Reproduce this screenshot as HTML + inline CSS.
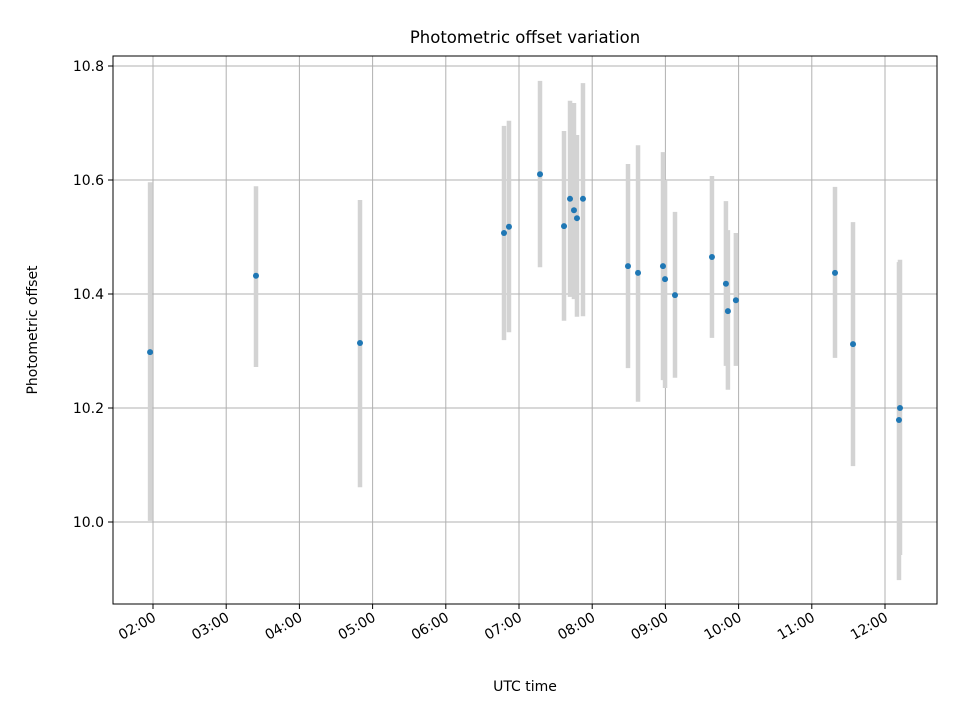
<!DOCTYPE html>
<html><head><meta charset="utf-8"><style>body{margin:0;background:#fff}svg{font-family:"DejaVu Sans","Liberation Sans",sans-serif}</style></head>
<body>
<svg id="chart" width="960" height="720" xmlns="http://www.w3.org/2000/svg">
<rect width="960" height="720" fill="#fff"/>
<text x="525" y="43" font-size="16.5px" text-anchor="middle">Photometric offset variation</text>
<text x="525" y="691" font-size="14px" text-anchor="middle">UTC time</text>
<text transform="translate(37,330) rotate(-90)" font-size="14px" text-anchor="middle">Photometric offset</text>
<g id="grid"></g><g id="bars"></g><g id="pts"></g><g id="ticks"></g>
<rect x="113" y="56" width="824" height="548" fill="none" stroke="#000" stroke-width="1"/>
</svg>
<script>
const times=[1.96,3.407,4.828,6.795,6.863,7.287,7.615,7.697,7.751,7.792,7.874,8.489,8.626,8.967,8.995,9.131,9.636,9.827,9.854,9.963,11.317,11.563,12.205,12.191];
const values=[10.298,10.432,10.314,10.507,10.518,10.61,10.519,10.567,10.547,10.533,10.567,10.449,10.437,10.449,10.426,10.398,10.465,10.418,10.37,10.389,10.437,10.312,10.2,10.179];
const errHigh=[10.596,10.589,10.565,10.695,10.704,10.774,10.686,10.739,10.735,10.679,10.770,10.628,10.661,10.649,10.6,10.544,10.607,10.563,10.512,10.507,10.588,10.526,10.46,10.456];
const errLow=[10.002,10.272,10.061,10.319,10.333,10.447,10.353,10.395,10.391,10.36,10.361,10.270,10.211,10.249,10.235,10.253,10.323,10.274,10.232,10.274,10.288,10.098,9.942,9.898];
const xTicks=[2,3,4,5,6,7,8,9,10,11,12];
const xTickLabels=["02:00","03:00","04:00","05:00","06:00","07:00","08:00","09:00","10:00","11:00","12:00"];
const yTicks=[10.0,10.2,10.4,10.6,10.8];
const yTickLabels=["10.0","10.2","10.4","10.6","10.8"];
const X=h=>153+(h-2)*73.2;
const Y=v=>522-(v-10)*570;
const NS="http://www.w3.org/2000/svg";
function mk(t,a,p){const e=document.createElementNS(NS,t);for(const k in a)e.setAttribute(k,a[k]);p.appendChild(e);return e;}
const g=document.getElementById('grid'),tk=document.getElementById('ticks'),b=document.getElementById('bars'),p=document.getElementById('pts');
xTicks.forEach((h,i)=>{const x=X(h);
 let l=mk('line',{x1:x,x2:x,y1:56,y2:604,stroke:'#b0b0b0','stroke-width':1},g);
 
 
 let t=mk('line',{x1:x,x2:x,y1:604,y2:609,stroke:'#000'},tk);
 
 
 let tx=mk('text',{x:x+4,y:620,'font-size':'14px','text-anchor':'end',transform:`rotate(-30 ${x+4} 620)`},tk);
 tx.textContent=xTickLabels[i];
 
 
});
yTicks.forEach((v,i)=>{const y=Y(v);
 let l=mk('line',{x1:113,x2:937,y1:y,y2:y,stroke:'#b0b0b0','stroke-width':1},g);
 
 
 let t=mk('line',{x1:108,x2:113,y1:y,y2:y,stroke:'#000'},tk);
 
 
 let tx=mk('text',{x:104,y:y+5,'font-size':'14px','text-anchor':'end'},tk);
 tx.textContent=yTickLabels[i];
 
 
});
times.forEach((h,i)=>{const x=X(h);
 let e=mk('line',{x1:x,x2:x,y1:Y(errHigh[i]),y2:Y(errLow[i]),stroke:'#d3d3d3','stroke-width':4.5},b);
 
 
 let c=mk('circle',{cx:x,cy:Y(values[i]),r:3,fill:'#1f77b4'},p);
 
 
});
</script>
</body></html>
